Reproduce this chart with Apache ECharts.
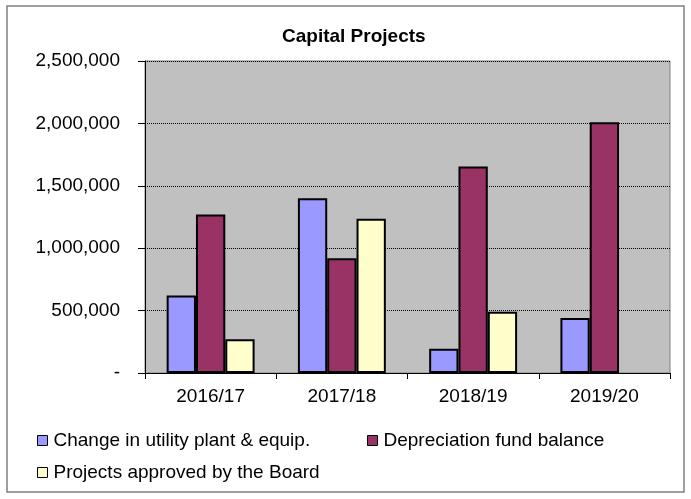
<!DOCTYPE html>
<html>
<head>
<meta charset="utf-8">
<title>Capital Projects</title>
<script src="https://cdn.jsdelivr.net/npm/echarts@6/dist/echarts.min.js"></script>
<style>
html, body { margin: 0; padding: 0; background: #fff; }
#chart { width: 691px; height: 499px; }
</style>
</head>
<body>
<div id="chart"></div>
<script>
var years = ["2016/17", "2017/18", "2018/19", "2019/20"];
var utilityPlant = [620000, 1400000, 195000, 440000];
var depreciationFund = [1270000, 920000, 1655000, 2010000];
var boardApproved = [270000, 1235000, 490000, null]; // no bar for 2019/20
var yTicks = [0, 500000, 1000000, 1500000, 2000000, 2500000];

var seriesNames = ["Change in utility plant & equip.", "Depreciation fund balance", "Projects approved by the Board"];
var colors = ["#9999FF", "#993366", "#FFFFCC"];
var font = "Liberation Sans, Arial, sans-serif";

var chart = echarts.init(document.getElementById("chart"));

function legendAt(name, left, top)
{
	return {
		data: [name],
		left: left,
		top: top,
		icon: "rect",
		itemWidth: 10,
		itemHeight: 10,
		itemGap: 0,
		padding: 0,
		selectedMode: false,
		itemStyle: { borderColor: "#000", borderWidth: 1 },
		textStyle: { fontFamily: font, fontSize: 19, color: "#000", padding: [0, 0, 0, 1] }
	};
}

function barSeries(i, values)
{
	return {
		name: seriesNames[i],
		type: "bar",
		data: values,
		barGap: "0%",
		barCategoryGap: "33%",
		itemStyle: { color: colors[i], borderColor: "#000", borderWidth: 2 },
		emphasis: { disabled: true }
	};
}

chart.setOption({
	animation: false,
	backgroundColor: "#fff",
	color: colors,
	title: {
		text: "Capital Projects",
		left: 282,
		top: 27,
		padding: 0,
		textStyle: { fontFamily: font, fontSize: 19, fontWeight: "bold", color: "#000" }
	},
	graphic: [{
		type: "rect",
		shape: { x: 7, y: 6, width: 677, height: 486 },
		style: { fill: null, stroke: "#808080", lineWidth: 1.5 },
		silent: true
	}],
	legend: [
		legendAt(seriesNames[0], 37, 431),
		legendAt(seriesNames[1], 367, 431),
		legendAt(seriesNames[2], 37, 463)
	],
	grid: {
		left: 145,
		right: 21,
		top: 61,
		bottom: 126,
		show: true,
		backgroundColor: "#C0C0C0",
		borderColor: "#808080",
		borderWidth: 1
	},
	xAxis: {
		type: "category",
		data: years,
		axisLine: { lineStyle: { color: "#000", width: 1 } },
		axisTick: { show: true, length: 6, lineStyle: { color: "#000" } },
		axisLabel: { fontFamily: font, fontSize: 19, color: "#000", margin: 14 }
	},
	yAxis: {
		type: "value",
		min: yTicks[0],
		max: yTicks[yTicks.length - 1],
		interval: yTicks[1] - yTicks[0],
		axisLine: { show: true, lineStyle: { color: "#000", width: 1 } },
		axisTick: { show: true, length: 7, lineStyle: { color: "#000" } },
		splitLine: { show: true, lineStyle: { color: "#000", type: "dotted", width: 1 } },
		axisLabel: {
			fontFamily: font,
			fontSize: 19,
			color: "#000",
			margin: 25,
			formatter: function(v) { return v === 0 ? "-" : v.toLocaleString("en-US"); }
		}
	},
	series: [
		barSeries(0, utilityPlant),
		barSeries(1, depreciationFund),
		barSeries(2, boardApproved)
	]
});
</script>
</body>
</html>
